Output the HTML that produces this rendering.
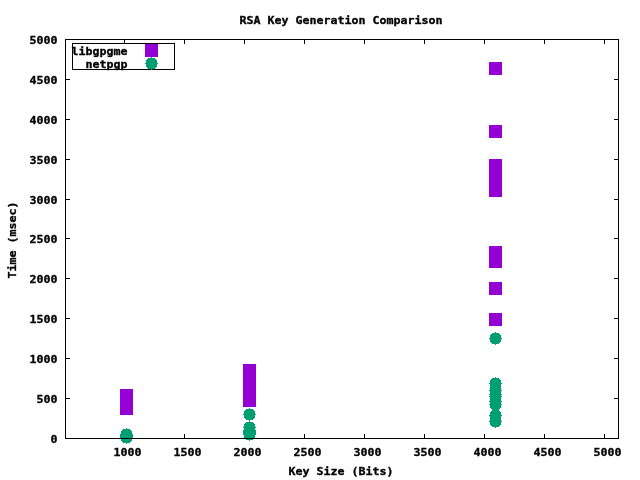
<!DOCTYPE html>
<html lang="en"><head><meta charset="utf-8"><title>RSA Key Generation Comparison</title>
<style>
html,body{margin:0;padding:0;background:#fff;}
body{width:640px;height:480px;overflow:hidden;}
svg{display:block;}
text{font-family:"DejaVu Sans Mono", "Liberation Mono", monospace;font-weight:bold;font-size:11.627px;fill:#000;stroke:#000;stroke-width:0.35px;stroke-linejoin:miter;}
.ax{stroke:#000;stroke-width:1;fill:none;shape-rendering:crispEdges;}
.p{fill:#9400d3;shape-rendering:crispEdges;}
.g{fill:#009e73;shape-rendering:crispEdges;}
</style></head><body>
<svg width="640" height="480" viewBox="0 0 640 480">
<rect x="0" y="0" width="640" height="480" fill="#ffffff"/>
<text transform="translate(239.6 24) scale(1 0.91)" text-anchor="start" textLength="203" lengthAdjust="spacing">RSA Key Generation Comparison</text>
<text transform="translate(288.6 475) scale(1 0.91)" text-anchor="start" textLength="105" lengthAdjust="spacing">Key Size (Bits)</text>
<text transform="translate(16 278.4) rotate(-90) scale(1 0.91)" textLength="77" lengthAdjust="spacing">Time (msec)</text>
<path class="ax" d="M65 438.5H70M614 438.5H619"/>
<text transform="translate(57.6 443) scale(1 0.91)" text-anchor="end" textLength="7" lengthAdjust="spacing">0</text>
<path class="ax" d="M65 398.5H70M614 398.5H619"/>
<text transform="translate(57.6 403) scale(1 0.91)" text-anchor="end" textLength="21" lengthAdjust="spacing">500</text>
<path class="ax" d="M65 358.5H70M614 358.5H619"/>
<text transform="translate(57.6 363) scale(1 0.91)" text-anchor="end" textLength="28" lengthAdjust="spacing">1000</text>
<path class="ax" d="M65 318.5H70M614 318.5H619"/>
<text transform="translate(57.6 323) scale(1 0.91)" text-anchor="end" textLength="28" lengthAdjust="spacing">1500</text>
<path class="ax" d="M65 278.5H70M614 278.5H619"/>
<text transform="translate(57.6 283) scale(1 0.91)" text-anchor="end" textLength="28" lengthAdjust="spacing">2000</text>
<path class="ax" d="M65 238.5H70M614 238.5H619"/>
<text transform="translate(57.6 243) scale(1 0.91)" text-anchor="end" textLength="28" lengthAdjust="spacing">2500</text>
<path class="ax" d="M65 199.5H70M614 199.5H619"/>
<text transform="translate(57.6 204) scale(1 0.91)" text-anchor="end" textLength="28" lengthAdjust="spacing">3000</text>
<path class="ax" d="M65 159.5H70M614 159.5H619"/>
<text transform="translate(57.6 164) scale(1 0.91)" text-anchor="end" textLength="28" lengthAdjust="spacing">3500</text>
<path class="ax" d="M65 119.5H70M614 119.5H619"/>
<text transform="translate(57.6 124) scale(1 0.91)" text-anchor="end" textLength="28" lengthAdjust="spacing">4000</text>
<path class="ax" d="M65 79.5H70M614 79.5H619"/>
<text transform="translate(57.6 84) scale(1 0.91)" text-anchor="end" textLength="28" lengthAdjust="spacing">4500</text>
<path class="ax" d="M65 39.5H70M614 39.5H619"/>
<text transform="translate(57.6 44) scale(1 0.91)" text-anchor="end" textLength="28" lengthAdjust="spacing">5000</text>
<path class="ax" d="M124.5 39V44M124.5 434V439"/>
<text transform="translate(113.6 456) scale(1 0.91)" text-anchor="start" textLength="28" lengthAdjust="spacing">1000</text>
<path class="ax" d="M184.5 39V44M184.5 434V439"/>
<text transform="translate(173.6 456) scale(1 0.91)" text-anchor="start" textLength="28" lengthAdjust="spacing">1500</text>
<path class="ax" d="M244.5 39V44M244.5 434V439"/>
<text transform="translate(233.6 456) scale(1 0.91)" text-anchor="start" textLength="28" lengthAdjust="spacing">2000</text>
<path class="ax" d="M304.5 39V44M304.5 434V439"/>
<text transform="translate(293.6 456) scale(1 0.91)" text-anchor="start" textLength="28" lengthAdjust="spacing">2500</text>
<path class="ax" d="M364.5 39V44M364.5 434V439"/>
<text transform="translate(353.6 456) scale(1 0.91)" text-anchor="start" textLength="28" lengthAdjust="spacing">3000</text>
<path class="ax" d="M424.5 39V44M424.5 434V439"/>
<text transform="translate(413.6 456) scale(1 0.91)" text-anchor="start" textLength="28" lengthAdjust="spacing">3500</text>
<path class="ax" d="M484.5 39V44M484.5 434V439"/>
<text transform="translate(473.6 456) scale(1 0.91)" text-anchor="start" textLength="28" lengthAdjust="spacing">4000</text>
<path class="ax" d="M544.5 39V44M544.5 434V439"/>
<text transform="translate(533.6 456) scale(1 0.91)" text-anchor="start" textLength="28" lengthAdjust="spacing">4500</text>
<path class="ax" d="M604.5 39V44M604.5 434V439"/>
<text transform="translate(593.6 456) scale(1 0.91)" text-anchor="start" textLength="28" lengthAdjust="spacing">5000</text>
<rect class="ax" x="72.5" y="43.5" width="102" height="26"/>
<text transform="translate(71.6 55) scale(1 0.91)" text-anchor="start" textLength="56" lengthAdjust="spacing">libgpgme</text>
<text transform="translate(85.6 68) scale(1 0.91)" text-anchor="start" textLength="42" lengthAdjust="spacing">netpgp</text>
<rect class="p" x="120" y="389" width="13" height="26"/>
<rect class="p" x="243" y="364" width="13" height="43"/>
<rect class="p" x="489" y="62" width="13" height="13"/>
<rect class="p" x="489" y="125" width="13" height="13"/>
<rect class="p" x="489" y="159" width="13" height="38"/>
<rect class="p" x="489" y="246" width="13" height="22"/>
<rect class="p" x="489" y="282" width="13" height="13"/>
<rect class="p" x="489" y="313" width="13" height="13"/>
<rect class="p" x="145" y="44" width="13" height="13"/>
<path class="g" transform="translate(126 434)" d="M0 -6h1v1h-1zM-3 -5h7v1h-7zM-4 -4h9v1h-9zM-5 -3h11v1h-11zM-5 -2h11v1h-11zM-5 -1h11v1h-11zM-6 0h13v1h-13zM-5 1h11v1h-11zM-5 2h11v1h-11zM-5 3h11v1h-11zM-4 4h9v1h-9zM-3 5h7v1h-7zM0 6h1v1h-1z"/>
<path class="g" transform="translate(126 435)" d="M0 -6h1v1h-1zM-3 -5h7v1h-7zM-4 -4h9v1h-9zM-5 -3h11v1h-11zM-5 -2h11v1h-11zM-5 -1h11v1h-11zM-6 0h13v1h-13zM-5 1h11v1h-11zM-5 2h11v1h-11zM-5 3h11v1h-11zM-4 4h9v1h-9zM-3 5h7v1h-7zM0 6h1v1h-1z"/>
<path class="g" transform="translate(126 436)" d="M0 -6h1v1h-1zM-3 -5h7v1h-7zM-4 -4h9v1h-9zM-5 -3h11v1h-11zM-5 -2h11v1h-11zM-5 -1h11v1h-11zM-6 0h13v1h-13zM-5 1h11v1h-11zM-5 2h11v1h-11zM-5 3h11v1h-11zM-4 4h9v1h-9zM-3 5h7v1h-7zM0 6h1v1h-1z"/>
<path class="g" transform="translate(126 437)" d="M0 -6h1v1h-1zM-3 -5h7v1h-7zM-4 -4h9v1h-9zM-5 -3h11v1h-11zM-5 -2h11v1h-11zM-5 -1h11v1h-11zM-6 0h13v1h-13zM-5 1h11v1h-11zM-5 2h11v1h-11zM-5 3h11v1h-11zM-4 4h9v1h-9zM-3 5h7v1h-7zM0 6h1v1h-1z"/>
<path class="g" transform="translate(249 414)" d="M0 -6h1v1h-1zM-3 -5h7v1h-7zM-4 -4h9v1h-9zM-5 -3h11v1h-11zM-5 -2h11v1h-11zM-5 -1h11v1h-11zM-6 0h13v1h-13zM-5 1h11v1h-11zM-5 2h11v1h-11zM-5 3h11v1h-11zM-4 4h9v1h-9zM-3 5h7v1h-7zM0 6h1v1h-1z"/>
<path class="g" transform="translate(249 427)" d="M0 -6h1v1h-1zM-3 -5h7v1h-7zM-4 -4h9v1h-9zM-5 -3h11v1h-11zM-5 -2h11v1h-11zM-5 -1h11v1h-11zM-6 0h13v1h-13zM-5 1h11v1h-11zM-5 2h11v1h-11zM-5 3h11v1h-11zM-4 4h9v1h-9zM-3 5h7v1h-7zM0 6h1v1h-1z"/>
<path class="g" transform="translate(249 430)" d="M0 -6h1v1h-1zM-3 -5h7v1h-7zM-4 -4h9v1h-9zM-5 -3h11v1h-11zM-5 -2h11v1h-11zM-5 -1h11v1h-11zM-6 0h13v1h-13zM-5 1h11v1h-11zM-5 2h11v1h-11zM-5 3h11v1h-11zM-4 4h9v1h-9zM-3 5h7v1h-7zM0 6h1v1h-1z"/>
<path class="g" transform="translate(249 431)" d="M0 -6h1v1h-1zM-3 -5h7v1h-7zM-4 -4h9v1h-9zM-5 -3h11v1h-11zM-5 -2h11v1h-11zM-5 -1h11v1h-11zM-6 0h13v1h-13zM-5 1h11v1h-11zM-5 2h11v1h-11zM-5 3h11v1h-11zM-4 4h9v1h-9zM-3 5h7v1h-7zM0 6h1v1h-1z"/>
<path class="g" transform="translate(249 432)" d="M0 -6h1v1h-1zM-3 -5h7v1h-7zM-4 -4h9v1h-9zM-5 -3h11v1h-11zM-5 -2h11v1h-11zM-5 -1h11v1h-11zM-6 0h13v1h-13zM-5 1h11v1h-11zM-5 2h11v1h-11zM-5 3h11v1h-11zM-4 4h9v1h-9zM-3 5h7v1h-7zM0 6h1v1h-1z"/>
<path class="g" transform="translate(249 433)" d="M0 -6h1v1h-1zM-3 -5h7v1h-7zM-4 -4h9v1h-9zM-5 -3h11v1h-11zM-5 -2h11v1h-11zM-5 -1h11v1h-11zM-6 0h13v1h-13zM-5 1h11v1h-11zM-5 2h11v1h-11zM-5 3h11v1h-11zM-4 4h9v1h-9zM-3 5h7v1h-7zM0 6h1v1h-1z"/>
<path class="g" transform="translate(249 434)" d="M0 -6h1v1h-1zM-3 -5h7v1h-7zM-4 -4h9v1h-9zM-5 -3h11v1h-11zM-5 -2h11v1h-11zM-5 -1h11v1h-11zM-6 0h13v1h-13zM-5 1h11v1h-11zM-5 2h11v1h-11zM-5 3h11v1h-11zM-4 4h9v1h-9zM-3 5h7v1h-7zM0 6h1v1h-1z"/>
<path class="g" transform="translate(495 338)" d="M0 -6h1v1h-1zM-3 -5h7v1h-7zM-4 -4h9v1h-9zM-5 -3h11v1h-11zM-5 -2h11v1h-11zM-5 -1h11v1h-11zM-6 0h13v1h-13zM-5 1h11v1h-11zM-5 2h11v1h-11zM-5 3h11v1h-11zM-4 4h9v1h-9zM-3 5h7v1h-7zM0 6h1v1h-1z"/>
<path class="g" transform="translate(495 383)" d="M0 -6h1v1h-1zM-3 -5h7v1h-7zM-4 -4h9v1h-9zM-5 -3h11v1h-11zM-5 -2h11v1h-11zM-5 -1h11v1h-11zM-6 0h13v1h-13zM-5 1h11v1h-11zM-5 2h11v1h-11zM-5 3h11v1h-11zM-4 4h9v1h-9zM-3 5h7v1h-7zM0 6h1v1h-1z"/>
<path class="g" transform="translate(495 390)" d="M0 -6h1v1h-1zM-3 -5h7v1h-7zM-4 -4h9v1h-9zM-5 -3h11v1h-11zM-5 -2h11v1h-11zM-5 -1h11v1h-11zM-6 0h13v1h-13zM-5 1h11v1h-11zM-5 2h11v1h-11zM-5 3h11v1h-11zM-4 4h9v1h-9zM-3 5h7v1h-7zM0 6h1v1h-1z"/>
<path class="g" transform="translate(495 394)" d="M0 -6h1v1h-1zM-3 -5h7v1h-7zM-4 -4h9v1h-9zM-5 -3h11v1h-11zM-5 -2h11v1h-11zM-5 -1h11v1h-11zM-6 0h13v1h-13zM-5 1h11v1h-11zM-5 2h11v1h-11zM-5 3h11v1h-11zM-4 4h9v1h-9zM-3 5h7v1h-7zM0 6h1v1h-1z"/>
<path class="g" transform="translate(495 396)" d="M0 -6h1v1h-1zM-3 -5h7v1h-7zM-4 -4h9v1h-9zM-5 -3h11v1h-11zM-5 -2h11v1h-11zM-5 -1h11v1h-11zM-6 0h13v1h-13zM-5 1h11v1h-11zM-5 2h11v1h-11zM-5 3h11v1h-11zM-4 4h9v1h-9zM-3 5h7v1h-7zM0 6h1v1h-1z"/>
<path class="g" transform="translate(495 401)" d="M0 -6h1v1h-1zM-3 -5h7v1h-7zM-4 -4h9v1h-9zM-5 -3h11v1h-11zM-5 -2h11v1h-11zM-5 -1h11v1h-11zM-6 0h13v1h-13zM-5 1h11v1h-11zM-5 2h11v1h-11zM-5 3h11v1h-11zM-4 4h9v1h-9zM-3 5h7v1h-7zM0 6h1v1h-1z"/>
<path class="g" transform="translate(495 404)" d="M0 -6h1v1h-1zM-3 -5h7v1h-7zM-4 -4h9v1h-9zM-5 -3h11v1h-11zM-5 -2h11v1h-11zM-5 -1h11v1h-11zM-6 0h13v1h-13zM-5 1h11v1h-11zM-5 2h11v1h-11zM-5 3h11v1h-11zM-4 4h9v1h-9zM-3 5h7v1h-7zM0 6h1v1h-1z"/>
<path class="g" transform="translate(495 415)" d="M0 -6h1v1h-1zM-3 -5h7v1h-7zM-4 -4h9v1h-9zM-5 -3h11v1h-11zM-5 -2h11v1h-11zM-5 -1h11v1h-11zM-6 0h13v1h-13zM-5 1h11v1h-11zM-5 2h11v1h-11zM-5 3h11v1h-11zM-4 4h9v1h-9zM-3 5h7v1h-7zM0 6h1v1h-1z"/>
<path class="g" transform="translate(495 421)" d="M0 -6h1v1h-1zM-3 -5h7v1h-7zM-4 -4h9v1h-9zM-5 -3h11v1h-11zM-5 -2h11v1h-11zM-5 -1h11v1h-11zM-6 0h13v1h-13zM-5 1h11v1h-11zM-5 2h11v1h-11zM-5 3h11v1h-11zM-4 4h9v1h-9zM-3 5h7v1h-7zM0 6h1v1h-1z"/>
<path class="g" transform="translate(151 63)" d="M0 -6h1v1h-1zM-3 -5h7v1h-7zM-4 -4h9v1h-9zM-5 -3h11v1h-11zM-5 -2h11v1h-11zM-5 -1h11v1h-11zM-6 0h13v1h-13zM-5 1h11v1h-11zM-5 2h11v1h-11zM-5 3h11v1h-11zM-4 4h9v1h-9zM-3 5h7v1h-7zM0 6h1v1h-1z"/>
<rect class="ax" x="65.5" y="39.5" width="553" height="399"/>
</svg>
</body></html>
